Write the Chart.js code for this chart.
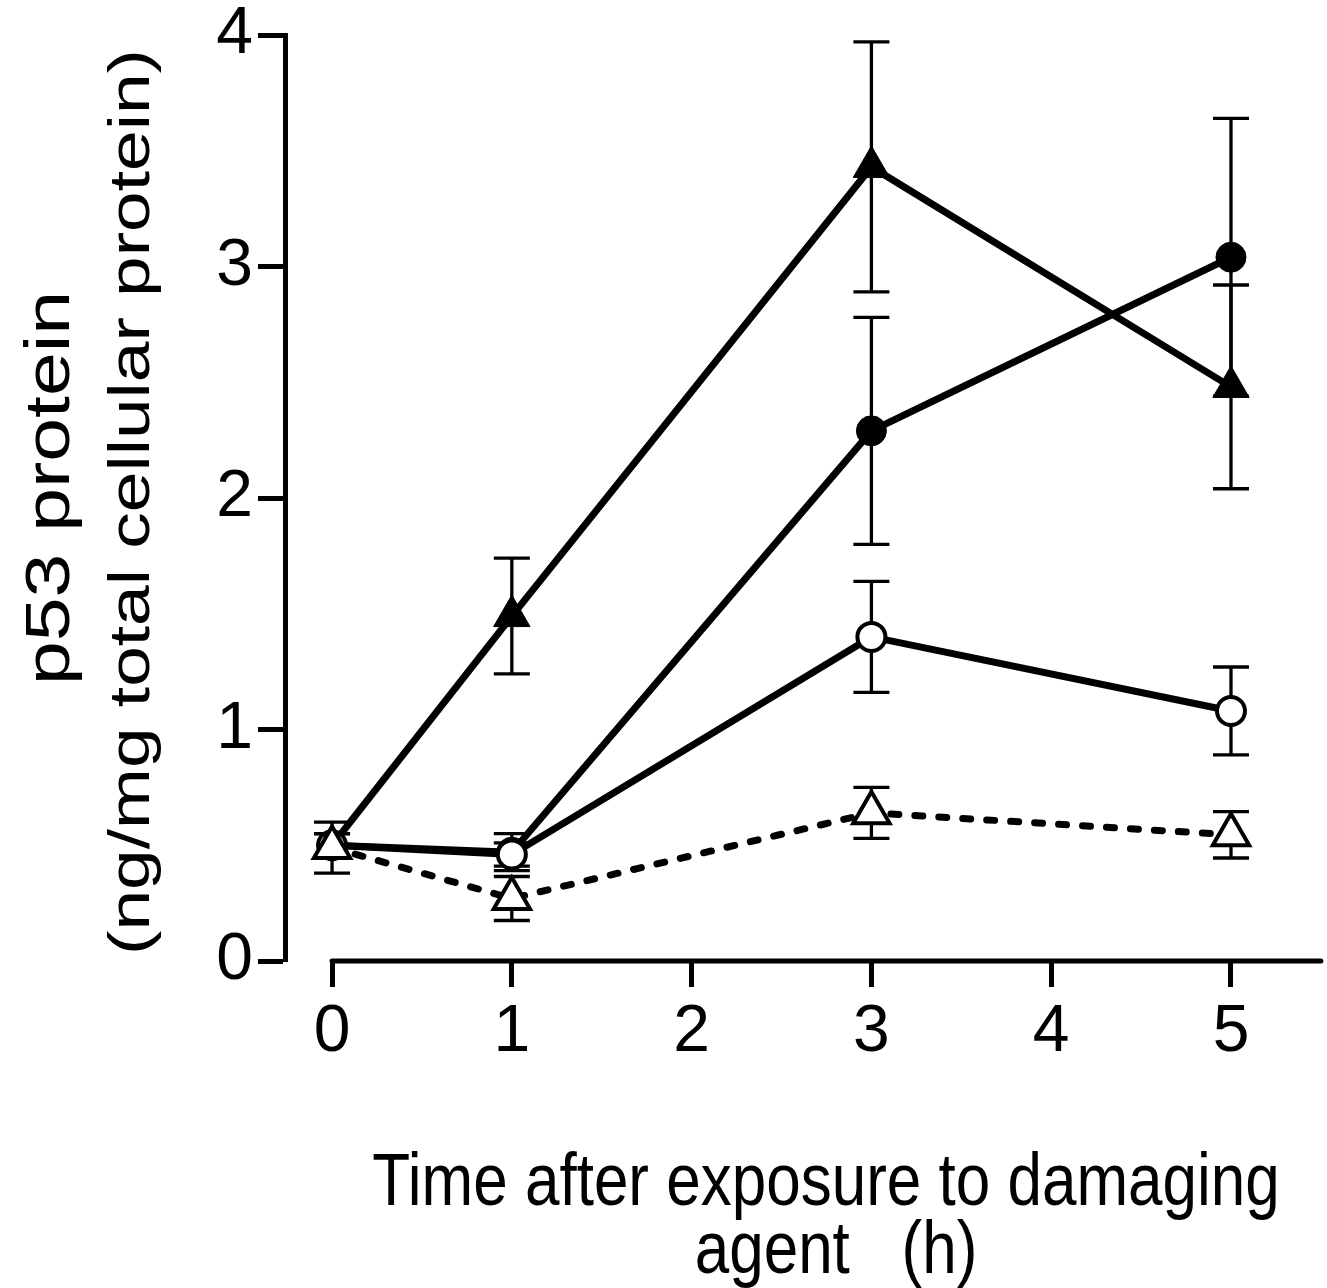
<!DOCTYPE html>
<html>
<head>
<meta charset="utf-8">
<title>p53 protein after exposure to damaging agent</title>
<script src="https://cdn.jsdelivr.net/npm/chart.js@4.4.1/dist/chart.umd.min.js"></script>
<style>
  html, body { margin: 0; padding: 0; background: #fff; }
  #wrap { width: 1327px; height: 1288px; }
</style>
</head>
<body>
<div id="wrap"><canvas id="c" width="1327" height="1288"></canvas></div>
<script>
// Time points (h)
const times = [0, 1, 3, 5];

// p53 protein (ng/mg total cellular protein), mean and error per series
const filledTriangle    = [0.50, 1.49, 3.43, 2.48];
const filledTriangleErr = [0.05, 0.25, 0.54, 0.44];

const filledCircle      = [0.50, 0.47, 2.29, 3.04];
const filledCircleErr   = [0.05, 0.08, 0.49, 0.60];

const openCircle        = [0.50, 0.46, 1.40, 1.08];
const openCircleErr     = [0.05, 0.05, 0.24, 0.19];

const openTriangle      = [0.49, 0.27, 0.64, 0.545];
const openTriangleErr   = [0.11, 0.095, 0.11, 0.10];

const xTicks = [0, 1, 2, 3, 4, 5];
const yTicks = [0, 1, 2, 3, 4];
const xAxisEnd = 5.5;

const xTitleLines = ['Time after exposure to damaging', 'agent   (h)'];
const yTitleLines = ['p53 protein', '(ng/mg total cellular protein)'];

const FONT = '"Liberation Sans", Arial, Helvetica, sans-serif';

function pts(vals) { return times.map((t, i) => ({ x: t, y: vals[i] })); }

// error bars drawn beneath the markers
const errorBars = {
  id: 'errorBars',
  beforeDatasetsDraw(chart) {
    const { ctx, scales: { x, y } } = chart;
    ctx.save();
    ctx.strokeStyle = '#000';
    ctx.lineWidth = 3.3;
    ctx.lineCap = 'butt';
    chart.data.datasets.forEach(ds => {
      ds.data.forEach((p, i) => {
        const e = ds.errors[i];
        const px = x.getPixelForValue(p.x);
        const top = y.getPixelForValue(p.y + e);
        const bot = y.getPixelForValue(p.y - e);
        const cap = 18;
        ctx.beginPath();
        ctx.moveTo(px, top); ctx.lineTo(px, bot);
        ctx.moveTo(px - cap, top); ctx.lineTo(px + cap, top);
        ctx.moveTo(px - cap, bot); ctx.lineTo(px + cap, bot);
        ctx.stroke();
      });
    });
    ctx.restore();
  }
};

// x axis line, offset from the y axis, running a little past the last tick
const xAxisLine = {
  id: 'xAxisLine',
  afterDraw(chart) {
    const { ctx, scales: { x, y } } = chart;
    const yy = y.getPixelForValue(0);
    ctx.save();
    ctx.strokeStyle = '#000';
    ctx.lineWidth = 5;
    ctx.lineCap = 'round';
    ctx.beginPath();
    ctx.moveTo(x.getPixelForValue(0), yy);
    ctx.lineTo(x.getPixelForValue(xAxisEnd), yy);
    ctx.stroke();
    ctx.restore();
  }
};

// axis titles (stretched glyphs)
const axisTitles = {
  id: 'axisTitles',
  afterDraw(chart) {
    const { ctx } = chart;
    ctx.save();
    ctx.fillStyle = '#000';
    ctx.textAlign = 'center';
    ctx.textBaseline = 'alphabetic';
    ctx.font = '62px ' + FONT;
    [[826, 1205], [836, 1273]].forEach(([cx, b], i) => {
      ctx.save();
      ctx.translate(cx, b);
      ctx.scale(1, 1.2);
      ctx.fillText(xTitleLines[i], 0, 0);
      ctx.restore();
    });
    // rotated y title: [baseline x, centre y, font size, stretch]
    [[69, 488, 63, 1.25], [149, 502, 58, 1.26]].forEach(([bx, cy, fs, st], i) => {
      ctx.save();
      ctx.font = fs + 'px ' + FONT;
      ctx.translate(bx, cy);
      ctx.rotate(-Math.PI / 2);
      ctx.scale(st, 1);
      ctx.fillText(yTitleLines[i], 0, 0);
      ctx.restore();
    });
    ctx.restore();
  }
};

const lineCommon = {
  borderColor: '#000',
  borderWidth: 7,
  pointBorderColor: '#000',
  pointBorderWidth: 4,
  tension: 0,
  fill: false,
};

const chart = new Chart(document.getElementById('c'), {
  type: 'line',
  data: {
    datasets: [
      Object.assign({}, lineCommon, {
        label: 'filled triangle', data: pts(filledTriangle), errors: filledTriangleErr,
        pointStyle: 'triangle', pointRadius: 21, pointBackgroundColor: '#000', pointBorderWidth: 1, order: 4
      }),
      Object.assign({}, lineCommon, {
        label: 'filled circle', data: pts(filledCircle), errors: filledCircleErr,
        pointStyle: 'circle', pointRadius: 15, pointBackgroundColor: '#000', pointBorderWidth: 1, order: 3
      }),
      Object.assign({}, lineCommon, {
        label: 'open circle', data: pts(openCircle), errors: openCircleErr,
        pointStyle: 'circle', pointRadius: 14, pointBackgroundColor: '#fff', order: 2
      }),
      Object.assign({}, lineCommon, {
        label: 'open triangle', data: pts(openTriangle), errors: openTriangleErr,
        pointStyle: 'triangle', pointRadius: 21, pointBackgroundColor: '#fff',
        borderDash: [8, 16], borderCapStyle: 'round', order: 1
      }),
    ]
  },
  options: {
    responsive: false,
    animation: false,
    events: [],
    layout: { padding: { top: 35, right: 7, left: 0, bottom: 0 } },
    plugins: { legend: { display: false }, tooltip: { enabled: false } },
    scales: {
      x: {
        type: 'linear',
        min: -0.2617, max: 5.395,
        afterBuildTicks(s) { s.ticks = xTicks.map(v => ({ value: v })); },
        afterFit(s) { s.height = 327; },
        border: { display: false },
        grid: { drawOnChartArea: false, drawTicks: true, tickLength: 26, tickWidth: 5, tickColor: '#000' },
        ticks: { color: '#000', font: { family: FONT, size: 66 }, padding: 6, maxRotation: 0, autoSkip: false }
      },
      y: {
        type: 'linear',
        min: 0, max: 4,
        afterBuildTicks(s) { s.ticks = yTicks.map(v => ({ value: v })); },
        afterFit(s) { s.width = 285; s.paddingTop = 0; s.paddingBottom = 0; },
        border: { display: true, width: 5, color: '#000' },
        grid: { drawOnChartArea: false, drawTicks: true, tickLength: 27, tickWidth: 5, tickColor: '#000' },
        ticks: { color: '#000', font: { family: FONT, size: 66 }, padding: 5 }
      }
    }
  },
  plugins: [errorBars, xAxisLine, axisTitles]
});
</script>
</body>
</html>
